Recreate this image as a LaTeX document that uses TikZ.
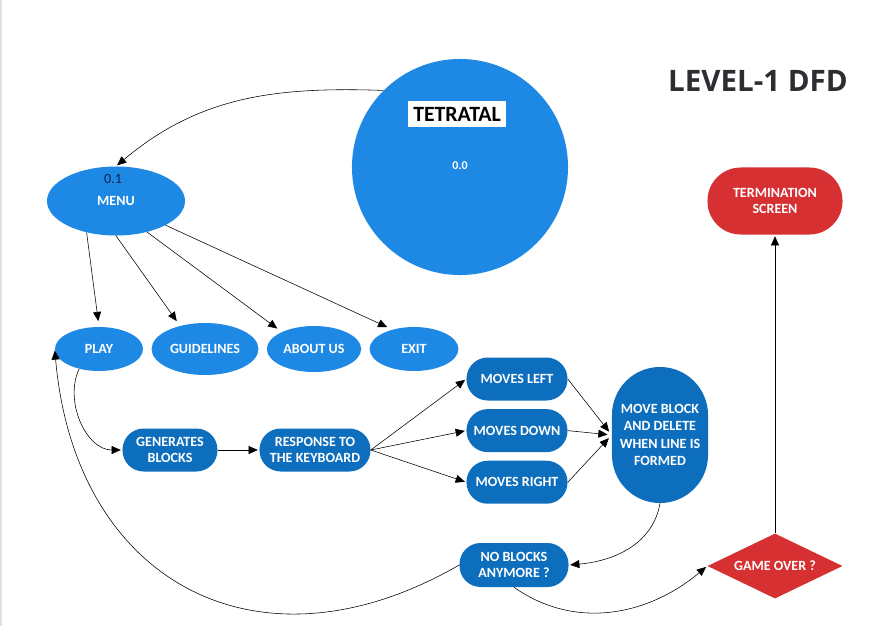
\documentclass[tikz,border=0pt]{standalone}
\usepackage{fontspec}
\setmainfont{Carlito}
\newfontfamily\titlefont{Open Sans}
\usepackage{xcolor}
\usepackage{tikz}
\usetikzlibrary{arrows.meta,shapes,positioning}

\definecolor{lblue}{RGB}{30,136,229}
\definecolor{dblue}{RGB}{13,110,190}
\definecolor{dred}{RGB}{214,48,50}
\definecolor{tgrey}{RGB}{45,45,50}
\definecolor{navy}{RGB}{20,35,70}

\begin{document}
\begin{tikzpicture}[->, >={Triangle[length=2.3mm, width=2mm]}, shorten >=1pt, thin, x=0.025cm, y=-0.025cm, inner sep=2pt, node distance=1.29cm,
  bubble/.style={ellipse, fill=lblue, text=white, font=\bfseries\fontsize{10}{11.5}\selectfont},
  pill/.style={rectangle, rounded corners=0.53cm, fill=dblue, text=white, align=center, minimum height=1.075cm, font=\bfseries\fontsize{10}{11.5}\selectfont},
  redpill/.style={pill, fill=dred, rounded corners=0.83cm, minimum width=3.375cm, minimum height=1.675cm},
  decision/.style={diamond, aspect=2, inner sep=0pt, fill=dred, text=white, font=\bfseries\fontsize{10}{11.5}\selectfont}]
\useasboundingbox (0,0) rectangle (895,627);
\fill[white] (0,0) rectangle (895,627);
\draw[-, black!12, line width=0.05cm] (1,0) -- (1,627);

% process 0.0 and its name
\node[circle, fill=lblue, minimum size=5.4cm] (tetra) at (460,167) {};
\node[fill=white, text=black, inner sep=1pt, minimum width=2.45cm, minimum height=0.67cm, font=\bfseries\fontsize{15.5}{17}\selectfont] (tname) at (457,114) {TETRATAL};
\node[text=white, font=\bfseries\fontsize{8.5}{9}\selectfont] (tid) at (460,166) {0.0};
\node[text=tgrey, font=\titlefont\bfseries\fontsize{21}{24}\selectfont] (title) at (758,81) {LEVEL-1 DFD};

% menu level
\node[bubble, minimum width=3.45cm, minimum height=1.725cm] (menu) at (116,201) {MENU};
\node[text=navy, font=\fontsize{10}{11}\selectfont] (menuid) at (113,179) {0.1};
\node[bubble, minimum width=2.2cm, minimum height=1.1cm] (play) at (99,349) {PLAY};
\node[bubble, minimum width=2.65cm, minimum height=1.3cm] (guide) at (205,349) {GUIDELINES};
\node[bubble, minimum width=2.32cm, minimum height=1.15cm] (about) at (314,349) {ABOUT US};
\node[bubble, minimum width=2.22cm, minimum height=1.1cm] (exit) at (414,349) {EXIT};

% game flow
\node[pill, minimum width=2.375cm] (gen) at (170,450) {GENERATES\\BLOCKS};
\node[pill, minimum width=2.775cm] (resp) at (315,450) {RESPONSE TO\\THE KEYBOARD};
\node[pill, minimum width=2.525cm] (left) at (517,379) {MOVES LEFT};
\node[pill, minimum width=2.525cm] (down) [below of=left] {MOVES DOWN};
\node[pill, minimum width=2.525cm] (right) [below of=down] {MOVES RIGHT};
\node[pill, rounded corners=1.2cm, minimum width=2.4cm, minimum height=3.4cm, font=\bfseries\fontsize{10}{12.3}\selectfont] (mblock) at (660,435) {MOVE BLOCK\\AND DELETE\\WHEN LINE IS\\FORMED};
\node[pill, minimum width=2.725cm, minimum height=1.1cm] (nob) at (514,565) {NO BLOCKS\\ANYMORE ?};
\node[decision, minimum width=3.375cm, minimum height=1.625cm] (game) at (775,566) {GAME OVER ?};
\node[redpill] (term) at (775,201) {TERMINATION\\SCREEN};

\path
(tetra.135) edge [out=178, in=40] (menu.north)

(menu.227) edge [shorten >=4pt] (play.north)
(menu.south) edge [shorten >=4pt] (guide.137)
(menu.-45) edge [shorten >=4pt] (about.152)
(menu.-26) edge [shorten >=4pt] (exit.138)

(play.225) edge [out=-115, in=180] (gen.west)
(gen) edge (resp)
(resp.east) edge (left.west)
(resp.east) edge (down.west)
(resp.east) edge (right.west)

(left.east) edge [shorten >=3pt] (mblock.west)
(down.east) edge [shorten >=3pt] (mblock.west)
(right.east) edge [shorten >=3pt] (mblock.west)

(mblock.south) edge [out=-100, in=5] (nob.east)
(nob.west) edge [out=210, in=-85, looseness=1.3] (play.west)
(nob.south) edge [out=-35, in=220] (game.west)
(game.north) edge (term.south);
\end{tikzpicture}
\end{document}
